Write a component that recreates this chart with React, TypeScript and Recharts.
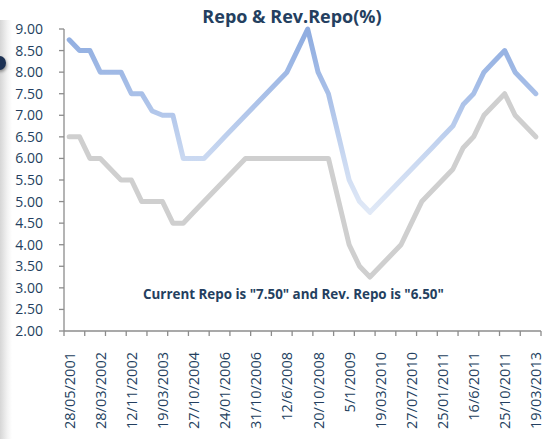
import React from 'react';
import { LineChart, Line, XAxis, YAxis } from 'recharts';

const dates = [
  '28/05/2001', '07/06/2001', '27/10/2001', '28/03/2002', '28/06/2002', '30/10/2002',
  '12/11/2002', '03/03/2003', '07/03/2003', '19/03/2003', '25/08/2003', '31/03/2004',
  '27/10/2004', '29/04/2005', '26/10/2005', '24/01/2006', '09/06/2006', '25/07/2006',
  '31/10/2006', '31/01/2007', '30/03/2007', '12/6/2008', '25/06/2008', '30/07/2008',
  '20/10/2008', '03/11/2008', '08/12/2008', '5/1/2009', '05/03/2009', '21/04/2009',
  '19/03/2010', '20/04/2010', '02/07/2010', '27/07/2010', '16/09/2010', '02/11/2010',
  '25/01/2011', '17/03/2011', '03/05/2011', '16/6/2011', '26/07/2011', '16/09/2011',
  '25/10/2011', '17/04/2012', '29/01/2013', '19/03/2013',
];

const repo = [
  8.75, 8.5, 8.5, 8.0, 8.0, 8.0,
  7.5, 7.5, 7.1, 7.0, 7.0, 6.0,
  6.0, 6.0, 6.25, 6.5, 6.75, 7.0,
  7.25, 7.5, 7.75, 8.0, 8.5, 9.0,
  8.0, 7.5, 6.5, 5.5, 5.0, 4.75,
  5.0, 5.25, 5.5, 5.75, 6.0, 6.25,
  6.5, 6.75, 7.25, 7.5, 8.0, 8.25,
  8.5, 8.0, 7.75, 7.5,
];

const revRepo = [
  6.5, 6.5, 6.0, 6.0, 5.75, 5.5,
  5.5, 5.0, 5.0, 5.0, 4.5, 4.5,
  4.75, 5.0, 5.25, 5.5, 5.75, 6.0,
  6.0, 6.0, 6.0, 6.0, 6.0, 6.0,
  6.0, 6.0, 5.0, 4.0, 3.5, 3.25,
  3.5, 3.75, 4.0, 4.5, 5.0, 5.25,
  5.5, 5.75, 6.25, 6.5, 7.0, 7.25,
  7.5, 7.0, 6.75, 6.5,
];

const yTicks = [2, 2.5, 3, 3.5, 4, 4.5, 5, 5.5, 6, 6.5, 7, 7.5, 8, 8.5, 9];

const titleText = 'Repo & Rev.Repo(%)';
const noteText = 'Current Repo is "7.50" and Rev. Repo is "6.50"';

const data = dates.map((d, i) => ({ date: d, repo: repo[i], revRepo: revRepo[i] }));

const W = 547;
const H = 439;
const PLOT_LEFT = 64;
const PLOT_RIGHT = 541;
const PLOT_TOP = 29;
const PLOT_BOTTOM = 331;
const PLOT_W = PLOT_RIGHT - PLOT_LEFT;
const CAT_W = PLOT_W / dates.length;
const AXIS_COLOR = '#8c8c8c';
const TEXT_COLOR = '#243f60';
const FONT = '"Open Sans", "DejaVu Sans", sans-serif';

function XTick(props: any) {
  const { x, y, payload } = props;
  const i: number = props.index ?? payload?.index ?? 0;
  const els: React.ReactNode[] = [];
  if (i % 2 === 0) {
    els.push(
      <line key="t" x1={x - CAT_W / 2} x2={x - CAT_W / 2} y1={y} y2={y + 5} stroke={AXIS_COLOR} strokeWidth={1.3} />
    );
  }
  if (i === dates.length - 1) {
    els.push(
      <line key="e" x1={x + CAT_W / 2} x2={x + CAT_W / 2} y1={y} y2={y + 5} stroke={AXIS_COLOR} strokeWidth={1.3} />
    );
  }
  if (i % 3 === 0) {
    const ty = y + 21;
    els.push(
      <text
        key="l"
        x={x}
        y={ty}
        transform={`rotate(-90, ${x}, ${ty})`}
        textAnchor="end"
        dominantBaseline="central"
        fill={TEXT_COLOR}
        fontSize={14.5}
        fontFamily={FONT}
      >
        {payload.value}
      </text>
    );
  }
  return <g>{els}</g>;
}

export default function App() {
  return (
    <div style={{ position: 'absolute', left: 0, top: 0, width: W, height: H, background: '#fff', overflow: 'hidden' }}>
      <div
        style={{
          position: 'absolute',
          left: 0,
          top: 20,
          width: 12,
          height: H - 20,
          background: 'linear-gradient(to right, #d6d6d6, #f2f2f2 60%, #ffffff)',
        }}
      />
      <div
        style={{
          position: 'absolute',
          left: -7,
          top: 56,
          width: 13,
          height: 14,
          borderRadius: '50%',
          background: '#1c3153',
          boxShadow: '1px 2px 3px rgba(0,0,0,0.35)',
        }}
      />
      <div style={{ position: 'absolute', left: 0, top: 0 }}>
        <LineChart
          width={W}
          height={H}
          data={data}
          margin={{ top: PLOT_TOP, right: W - PLOT_RIGHT, bottom: 0, left: 0 }}
        >
          <defs>
            <linearGradient id="repoGrad" gradientUnits="userSpaceOnUse" x1="0" y1="29" x2="0" y2="216">
              <stop offset="0%" stopColor="#8eace0" />
              <stop offset="35%" stopColor="#a9c0e8" />
              <stop offset="68%" stopColor="#c9d8f1" />
              <stop offset="100%" stopColor="#e2eaf7" />
            </linearGradient>
          </defs>
          <XAxis
            dataKey="date"
            interval={0}
            height={H - PLOT_BOTTOM}
            padding={{ left: CAT_W / 2, right: CAT_W / 2 }}
            tickLine={false}
            tickSize={0}
            tickMargin={0}
            axisLine={{ stroke: AXIS_COLOR, strokeWidth: 1.3 }}
            tick={<XTick />}
          />
          <YAxis
            domain={[2, 9]}
            ticks={yTicks}
            interval={0}
            width={PLOT_LEFT}
            tickFormatter={(v: number) => v.toFixed(2)}
            tickSize={5}
            tickMargin={16}
            tickLine={{ stroke: AXIS_COLOR, strokeWidth: 1.3 }}
            axisLine={{ stroke: AXIS_COLOR, strokeWidth: 1.3 }}
            tick={{ fill: TEXT_COLOR, fontSize: 14, fontFamily: FONT }}
          />
          <Line
            type="linear"
            dataKey="revRepo"
            stroke="#cfcfcf"
            strokeWidth={5}
            strokeLinejoin="round"
            strokeLinecap="round"
            dot={false}
            activeDot={false}
            isAnimationActive={false}
          />
          <Line
            type="linear"
            dataKey="repo"
            stroke="url(#repoGrad)"
            strokeWidth={5}
            strokeLinejoin="round"
            strokeLinecap="round"
            dot={false}
            activeDot={false}
            isAnimationActive={false}
          />
        </LineChart>
      </div>
      <div
        style={{
          position: 'absolute',
          left: 0,
          width: 584,
          top: 6,
          textAlign: 'center',
          fontFamily: FONT,
          fontWeight: 700,
          fontSize: 18,
          lineHeight: '21px',
          color: TEXT_COLOR,
          whiteSpace: 'nowrap',
        }}
      >
        {titleText}
      </div>
      <div
        style={{
          position: 'absolute',
          left: 143,
          top: 286,
          fontFamily: FONT,
          fontWeight: 700,
          fontSize: 13.4,
          lineHeight: '16px',
          color: TEXT_COLOR,
          whiteSpace: 'nowrap',
        }}
      >
        {noteText}
      </div>
    </div>
  );
}
